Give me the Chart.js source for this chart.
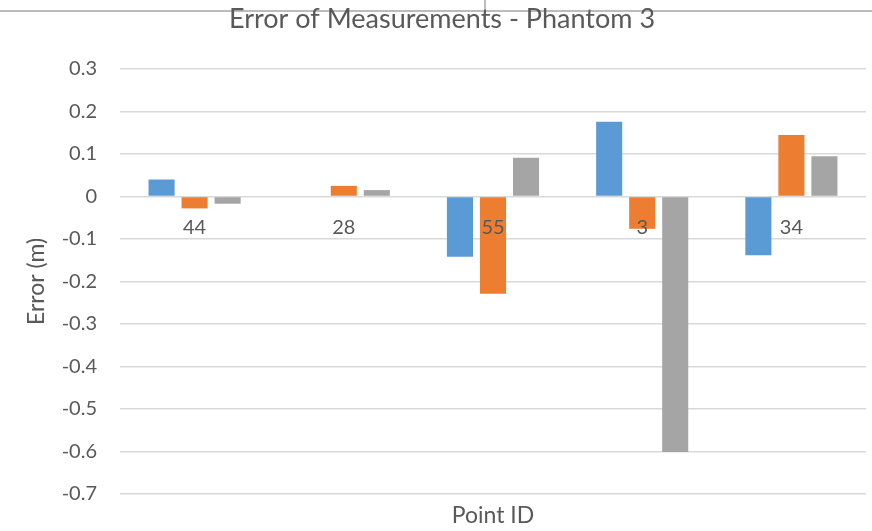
<!DOCTYPE html>
<html>
<head>
<meta charset="utf-8">
<script src="https://cdn.jsdelivr.net/npm/chart.js@4/dist/chart.umd.min.js"></script>
<style>
  html, body { margin: 0; padding: 0; background: #fff; }
  #wrap { width: 872px; height: 531px; position: relative; }
</style>
</head>
<body>
<div id="wrap"><canvas id="c" width="872" height="531"></canvas></div>
<script>
const categories = ["44", "28", "55", "3", "34"];
const seriesA = [0.040, 0.000, -0.142, 0.176, -0.138];
const seriesB = [-0.028, 0.025, -0.229, -0.076, 0.145];
const seriesC = [-0.017, 0.015, 0.091, -0.601, 0.095];
const yTicks = [0.3, 0.2, 0.1, 0, -0.1, -0.2, -0.3, -0.4, -0.5, -0.6, -0.7];

const FONT = "Lato, 'Open Sans', sans-serif";
const TXT = "#595959";

const zeroLabels = {
  id: "zeroLabels",
  afterDatasetsDraw(chart) {
    const { ctx, scales } = chart;
    const x = scales.x, y = scales.y;
    const y0 = y.getPixelForValue(0);
    ctx.save();
    ctx.font = "20px " + FONT;
    ctx.fillStyle = TXT;
    ctx.textAlign = "center";
    ctx.textBaseline = "middle";
    categories.forEach((c, i) => {
      ctx.fillText(c, x.getPixelForValue(i), y0 + 31);
    });
    ctx.restore();
  }
};

const frame = {
  id: "frame",
  beforeDraw(chart) {
    const { ctx, width } = chart;
    ctx.save();
    ctx.strokeStyle = "#a6a6a6";
    ctx.lineWidth = 1.5;
    ctx.beginPath();
    ctx.moveTo(0, 11);
    ctx.lineTo(width, 11);
    ctx.moveTo(485, 0);
    ctx.lineTo(485, 11);
    ctx.stroke();
    ctx.restore();
  }
};

new Chart(document.getElementById("c"), {
  type: "bar",
  data: {
    labels: categories,
    datasets: [
      { label: "A", data: seriesA, backgroundColor: "#5b9bd5" },
      { label: "B", data: seriesB, backgroundColor: "#ed7d31" },
      { label: "C", data: seriesC, backgroundColor: "#a5a5a5" }
    ]
  },
  options: {
    responsive: false,
    animation: false,
    devicePixelRatio: 1,
    layout: { padding: { left: 18, right: 6, top: 0, bottom: 0 } },
    datasets: { bar: { categoryPercentage: 0.664, barPercentage: 0.79 } },
    plugins: {
      legend: { display: false },
      tooltip: { enabled: false },
      title: {
        display: true,
        text: "Error of Measurements - Phantom 3",
        color: TXT,
        font: { family: FONT, size: 27, weight: "normal", lineHeight: 1.2 },
        padding: { top: 3, bottom: 33.6 }
      }
    },
    scales: {
      x: {
        grid: { display: false, drawTicks: false },
        border: { display: false },
        ticks: { display: false },
        title: {
          display: true,
          text: "Point ID",
          color: TXT,
          font: { family: FONT, size: 23, lineHeight: 1.2 },
          padding: { top: 0, bottom: 1.5 }
        },
        afterFit(s) { s.height = 37; }
      },
      y: {
        min: -0.7,
        max: 0.3,
        afterBuildTicks(s) { s.ticks = yTicks.map(v => ({ value: v })); },
        grid: { color: "#d9d9d9", lineWidth: 1.5, drawTicks: false },
        border: { display: false },
        ticks: {
          color: TXT,
          font: { family: FONT, size: 20 },
          padding: 23,
          callback(v) { const r = Math.round(v * 10) / 10; return r === 0 ? "0" : r.toFixed(1); }
        },
        title: {
          display: true,
          text: "Error (m)",
          color: TXT,
          font: { family: FONT, size: 23, lineHeight: 1.2 },
          padding: { top: 5, bottom: 0 }
        },
        afterFit(s) { s.width = 102; }
      }
    }
  },
  plugins: [frame, zeroLabels]
});
</script>
</body>
</html>
